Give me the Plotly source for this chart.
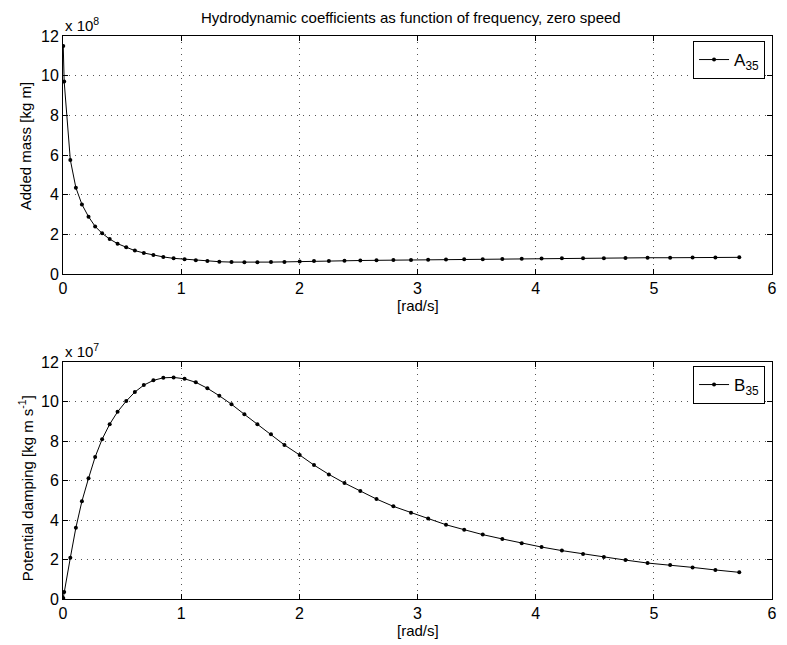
import plotly.graph_objects as go

# frequency [rad/s]
freq = [0.002, 0.010, 0.062, 0.109, 0.160, 0.216, 0.272, 0.331, 0.395, 0.462,
        0.535, 0.608, 0.684, 0.765, 0.849, 0.936, 1.029, 1.124, 1.222, 1.323,
        1.426, 1.535, 1.645, 1.760, 1.874, 2.003, 2.124, 2.250, 2.382, 2.516,
        2.653, 2.796, 2.945, 3.090, 3.241, 3.395, 3.552, 3.718, 3.882, 4.050,
        4.222, 4.401, 4.577, 4.760, 4.947, 5.138, 5.328, 5.521, 5.723]

# Added mass A35 in units of 1e8 kg m
A35_e8 = [11.50, 9.70, 5.75, 4.35, 3.51, 2.89, 2.40, 2.05, 1.76, 1.53,
          1.35, 1.18, 1.06, 0.96, 0.86, 0.79, 0.74, 0.69, 0.65, 0.62,
          0.60, 0.59, 0.59, 0.60, 0.61, 0.63, 0.65, 0.66, 0.67, 0.68,
          0.69, 0.70, 0.71, 0.72, 0.73, 0.74, 0.75, 0.76, 0.77, 0.78,
          0.79, 0.80, 0.80, 0.81, 0.82, 0.82, 0.83, 0.83, 0.84]

# Potential damping B35 in units of 1e7 kg m s^-1
B35_e7 = [0.05, 0.35, 2.09, 3.61, 4.95, 6.11, 7.19, 8.09, 8.85, 9.48,
          10.02, 10.48, 10.83, 11.07, 11.20, 11.22, 11.15, 10.97, 10.67, 10.29,
          9.86, 9.35, 8.85, 8.34, 7.80, 7.29, 6.78, 6.31, 5.87, 5.47,
          5.06, 4.69, 4.37, 4.07, 3.76, 3.51, 3.26, 3.04, 2.82, 2.63,
          2.45, 2.28, 2.13, 1.97, 1.82, 1.72, 1.60, 1.47, 1.35]

A35 = [v * 1e8 for v in A35_e8]
B35 = [v * 1e7 for v in B35_e7]

x_ticks = [0, 1, 2, 3, 4, 5, 6]
y_tick_labels = ["0", "2", "4", "6", "8", "10", "12"]

FONT = "Liberation Sans, Arial, Helvetica, sans-serif"
fs = 15

fig = go.Figure()
fig.add_trace(go.Scatter(x=freq, y=A35, mode="lines+markers", name="A<sub>35</sub>",
                         line=dict(color="black", width=1),
                         marker=dict(color="black", size=4), showlegend=True,
                         xaxis="x", yaxis="y", legend="legend"))
fig.add_trace(go.Scatter(x=freq, y=B35, mode="lines+markers", name="B<sub>35</sub>",
                         line=dict(color="black", width=1),
                         marker=dict(color="black", size=4), showlegend=True,
                         xaxis="x2", yaxis="y2", legend="legend2"))

common_axis = dict(showline=True, linecolor="black", linewidth=1, mirror="ticks",
                   ticks="inside", ticklen=5, tickcolor="black", tickwidth=1,
                   showgrid=True, gridcolor="#555555", gridwidth=1, griddash="1px,5px",
                   zeroline=False, tickfont=dict(family=FONT, size=16, color="black"))

top_dom = [(599 - 274) / 563, 1.0]
bot_dom = [0.0, (599 - 362) / 563]

fig.update_layout(
    width=787, height=645,
    margin=dict(l=63, r=10, t=36, b=46),
    paper_bgcolor="white", plot_bgcolor="white",
    showlegend=True,
    font=dict(family=FONT, size=fs, color="black"),
    xaxis=dict(domain=[0, 1], range=[0, 6], tickvals=x_ticks, anchor="y", **common_axis),
    yaxis=dict(domain=top_dom, range=[0, 12e8], tickvals=[v * 1e8 for v in range(0, 13, 2)],
               ticktext=y_tick_labels, anchor="x", **common_axis),
    xaxis2=dict(domain=[0, 1], range=[0, 6], tickvals=x_ticks, anchor="y2", **common_axis),
    yaxis2=dict(domain=bot_dom, range=[0, 12e7], tickvals=[v * 1e7 for v in range(0, 13, 2)],
                ticktext=y_tick_labels, anchor="x2", **common_axis),
    legend=dict(x=(770 - 63) / 714, xanchor="right", y=(599 - 41) / 563, yanchor="top",
                bordercolor="black", borderwidth=1, bgcolor="white", itemwidth=30,
                font=dict(family=FONT, size=17)),
    legend2=dict(x=(770 - 63) / 714, xanchor="right", y=(599 - 366) / 563, yanchor="top",
                 bordercolor="black", borderwidth=1, bgcolor="white", itemwidth=30,
                 font=dict(family=FONT, size=17)),
)

def px_y(py):
    return (599 - py) / 563

def px_x(px):
    return (px - 63) / 714

ann = [
    dict(text="Hydrodynamic coefficients as function of frequency, zero speed",
         x=px_x(413), y=px_y(18), xanchor="center", yanchor="middle"),
    dict(text="x 10<sup>8</sup>", x=0, y=px_y(25), xanchor="left", yanchor="middle"),
    dict(text="x 10<sup>7</sup>", x=0, y=px_y(351), xanchor="left", yanchor="middle"),
    dict(text="Added mass [kg m]", x=px_x(25), y=px_y(146), textangle=-90,
         xanchor="center", yanchor="middle"),
    dict(text="Potential damping [kg m s<sup>-1</sup>]", x=px_x(26), y=px_y(488), textangle=-90,
         xanchor="center", yanchor="middle"),
    dict(text="[rad/s]", x=px_x(420), y=px_y(305), xanchor="center", yanchor="middle"),
    dict(text="[rad/s]", x=px_x(420), y=px_y(630), xanchor="center", yanchor="middle"),
]
for a in ann:
    a.update(xref="paper", yref="paper", showarrow=False,
             font=dict(family=FONT, size=fs, color="black"))
fig.update_layout(annotations=ann)

fig.write_html("out.html")
